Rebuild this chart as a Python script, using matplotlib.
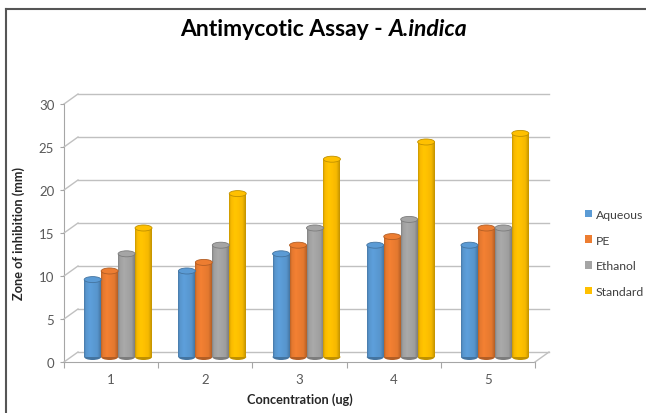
import numpy as np
import matplotlib.pyplot as plt
from matplotlib.patches import Ellipse, Patch
from matplotlib.colors import to_rgb

plt.rcParams['font.family'] = ['Lato', 'DejaVu Sans']

# data
concentrations = ['1', '2', '3', '4', '5']
series = ['Aqueous', 'PE', 'Ethanol', 'Standard']
aqueous = [9, 10, 12, 13, 13]
pe = [10, 11, 13, 14, 15]
ethanol = [12, 13, 15, 16, 15]
standard = [15, 19, 23, 25, 26]
values = [aqueous, pe, ethanol, standard]
colors = ['#5B9BD5', '#ED7D31', '#A5A5A5', '#FFC000']

W, H = 646, 414
fig = plt.figure(figsize=(W / 100, H / 100), dpi=100)
# front plane of the fake 3d box, in pixels
left, right, bottom, top = 64, 535, 363, 105
ax = fig.add_axes([left / W, (H - bottom) / H, (right - left) / W, (bottom - top) / H])
ax.set_xlim(0.5, 5.5)
ax.set_ylim(0, 30)

# depth of the box: 14 px right, 10 px up -> data units
ddx = 14 * 5 / (right - left)
ddy = 10 * 30 / (bottom - top)

grid_c = '#C0C0C0'
axis_c = '#A6A6A6'
yticks = np.arange(0, 31, 5)
for v in yticks:
    # back wall gridline and side wall diagonal
    ax.plot([0.5 + ddx, 5.5 + ddx], [v + ddy, v + ddy], color=grid_c, lw=1, clip_on=False, zorder=1)
    ax.plot([0.5, 0.5 + ddx], [v, v + ddy], color=grid_c, lw=1, clip_on=False, zorder=1)
# floor right edge
ax.plot([5.5, 5.5 + ddx], [0, ddy], color=grid_c, lw=1, clip_on=False, zorder=1)

for s in ['top', 'right']:
    ax.spines[s].set_visible(False)
for s in ['left', 'bottom']:
    ax.spines[s].set_color(axis_c)
    ax.spines[s].set_zorder(0.5)

# cylinders
n = len(series)
bw = 0.18
eh = 6 * 30 / (bottom - top)
shade_pos = [0.0, 0.1, 0.35, 0.8, 1.0]
shade_fac = [0.78, 0.96, 1.03, 0.96, 0.76]
xs = np.arange(1, 6)
for i in range(n):
    base = np.array(to_rgb(colors[i]))
    t = np.linspace(0, 1, 64)
    fac = np.interp(t, shade_pos, shade_fac)
    grad = np.clip(base[None, :] * fac[:, None], 0, 1)
    dark = base * 0.75
    cx = xs + (i - (n - 1) / 2) * bw + ddx / 2
    bars = ax.bar(cx, values[i], width=bw, bottom=ddy / 2, color=colors[i], zorder=3, linewidth=0)
    for j, rect in enumerate(bars):
        x0 = rect.get_x()
        im = ax.imshow(grad[None, :, :], extent=(x0, x0 + bw, ddy / 2, ddy / 2 + values[i][j]),
                       aspect='auto', interpolation='bilinear', zorder=3.1)
        im.set_clip_path(rect)
        ax.add_patch(Ellipse((cx[j], ddy / 2), bw, eh, facecolor=dark, edgecolor='none', zorder=2.9))
        ax.add_patch(Ellipse((cx[j], ddy / 2 + values[i][j]), bw, eh, facecolor=colors[i],
                             edgecolor=dark, lw=0.6, zorder=3.2))

ax.set_xlim(0.5, 5.5)
ax.set_ylim(0, 30)

ax.set_yticks(yticks)
ax.tick_params(axis='y', direction='out', length=3, color=axis_c, labelcolor='#595959', labelsize=9.5, pad=4)
ax.set_xticks(np.arange(0.5, 6, 1))
ax.set_xticklabels([])
ax.set_xticks(xs, minor=True)
ax.set_xticklabels(concentrations, minor=True)
ax.tick_params(axis='x', which='major', direction='out', length=4, color=axis_c)
ax.tick_params(axis='x', which='minor', length=0, labelcolor='#595959', labelsize=9.5, pad=8)

ax.set_xlabel('Concentration (ug)', fontsize=9.2, fontweight='bold', color='#262626', labelpad=5)
ax.set_ylabel('Zone of inhibition (mm)', fontsize=9.2, fontweight='bold', color='#262626', labelpad=10)

# title: bold part plus bold italic species name
fig.canvas.draw()
r = fig.canvas.get_renderer()
t1 = fig.text(0, 1 - 29 / H, 'Antimycotic Assay - ', fontsize=16.5, fontweight='bold', va='center')
t2 = fig.text(0, 1 - 29 / H, 'A.indica', fontsize=16.5, fontweight='bold', style='italic', va='center')
w1 = t1.get_window_extent(r).width
w2 = t2.get_window_extent(r).width
x_start = (324 - (w1 + w2) / 2) / W
t1.set_x(x_start)
t2.set_x(x_start + w1 / W)

handles = [Patch(facecolor=c, edgecolor='none') for c in colors]
fig.legend(handles, series, loc='upper left', bbox_to_anchor=(580 / W, 1 - 205 / H), frameon=False,
           fontsize=8.8, labelcolor='#404040', handlelength=0.6, handleheight=0.6, handletextpad=0.3,
           labelspacing=1.2, borderaxespad=0)

# chart border (top and left edges visible in the crop)
fig.add_artist(plt.Line2D([6 / W, 1], [1 - 10 / H, 1 - 10 / H], color='#555555', lw=1.5, transform=fig.transFigure))
fig.add_artist(plt.Line2D([6 / W, 6 / W], [0, 1 - 10 / H], color='#555555', lw=1.5, transform=fig.transFigure))

fig.savefig('out.png', dpi=100)
